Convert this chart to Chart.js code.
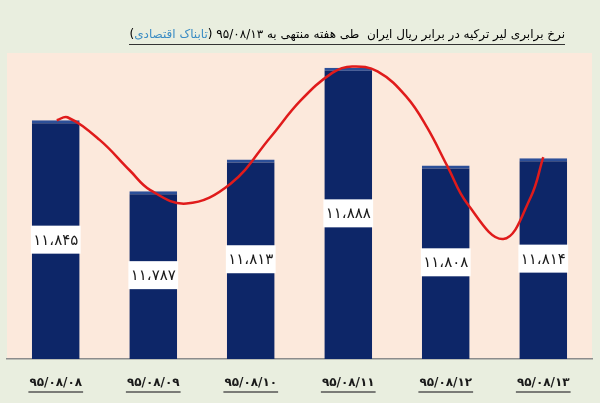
<!DOCTYPE html>
<html lang="fa">
<head>
<meta charset="utf-8">
<script src="https://cdn.jsdelivr.net/npm/chart.js@4"></script>
<style>
  html,body{margin:0;padding:0;background:#e9eedf;}
  #wrap{position:relative;width:600px;height:403px;}
  #title{position:absolute;top:26px;right:35px;direction:rtl;white-space:nowrap;
    font-family:"DejaVu Sans",sans-serif;font-size:12px;color:#000;
    border-bottom:1px solid #333;line-height:17px;padding-bottom:1px;}
  #title .src{color:#3a8cc4;}
  canvas{position:absolute;left:0;top:0;}
</style>
</head>
<body>
<div id="wrap">
  <canvas id="c" width="600" height="403"></canvas>
  <div id="title">نرخ برابری لیر ترکیه در برابر ریال ایران&nbsp; طی هفته منتهی به ۹۵/۰۸/۱۳ (<span class="src">تابناک اقتصادی</span>)</div>
</div>
<script>
const categories = ['۹۵/۰۸/۰۸','۹۵/۰۸/۰۹','۹۵/۰۸/۱۰','۹۵/۰۸/۱۱','۹۵/۰۸/۱۲','۹۵/۰۸/۱۳'];
const rates = [11845, 11787, 11813, 11888, 11808, 11814];
const rateLabels = ['۱۱،۸۴۵','۱۱،۷۸۷','۱۱،۸۱۳','۱۱،۸۸۸','۱۱،۸۰۸','۱۱،۸۱۴'];
// hand-drawn red trend curve: position along categories (index) and rate value
const trendX = [0.01, 0.12, 0.45, 0.76, 0.97, 1.34, 1.79, 2.20, 2.51, 2.84, 3.04, 3.30, 3.60, 3.81, 4.02, 4.22, 4.59, 4.87, 5.00];
const trendY = [11845, 11847.5, 11829, 11804, 11788, 11777, 11793, 11831, 11861, 11884, 11889, 11885, 11864, 11839, 11807, 11777, 11748, 11782, 11815];
const yMin = 11650, yMax = 11900;

const plotBg = {
  id:'plotBg',
  beforeDraw(chart){
    const {ctx, chartArea:a} = chart;
    ctx.save(); ctx.fillStyle='#fce9dc';
    ctx.fillRect(a.left, a.top, a.right-a.left, a.bottom-a.top);
    ctx.restore();
  }
};
const barLabels = {
  id:'barLabels',
  afterDatasetDraw(chart, args){
    if(args.index!==0) return;
    const ctx = chart.ctx, meta = chart.getDatasetMeta(0), yb = chart.chartArea.bottom;
    ctx.save();
    meta.data.forEach((bar,i)=>{
      const cy = (bar.y + yb)/2, w = bar.width + 2, h = 28;
      ctx.fillStyle = '#ffffff';
      ctx.fillRect(bar.x - w/2, cy - h/2, w, h);
      ctx.fillStyle = '#1a1a1a';
      ctx.font = '15px "DejaVu Sans", sans-serif';
      ctx.textAlign = 'center'; ctx.textBaseline = 'middle';
      ctx.fillText(rateLabels[i], bar.x, cy + 1);
    });
    ctx.restore();
  }
};
const tickUnderline = {
  id:'tickUnderline',
  afterDraw(chart){
    const ctx = chart.ctx, sx = chart.scales.x;
    ctx.save();
    ctx.font = 'bold 12px "DejaVu Sans", sans-serif';
    ctx.strokeStyle = '#555'; ctx.lineWidth = 1.5;
    categories.forEach((c,i)=>{
      const x = sx.getPixelForTick(i), w = ctx.measureText(c).width + 2;
      ctx.beginPath(); ctx.moveTo(x - w/2, 392); ctx.lineTo(x + w/2, 392); ctx.stroke();
    });
    ctx.restore();
  }
};

new Chart(document.getElementById('c'), {
  data:{
    labels: categories,
    datasets:[
      {type:'bar', data: rates, order:1, grouped:false,
       backgroundColor:'#0d2668', borderColor:'#2c4f98',
       borderWidth:{top:3,left:0,right:0,bottom:0}, borderSkipped:false,
       barPercentage:0.49, categoryPercentage:1.0},
      {type:'line', data: trendX.map((x,i)=>({x:x, y:trendY[i]})), xAxisID:'x2', order:0,
       borderColor:'#e01b1b', borderWidth:2.5, tension:0.4, pointRadius:0, fill:false}
    ]
  },
  options:{
    responsive:false, animation:false, devicePixelRatio:1,
    layout:{padding:{left:7, right:8, top:53, bottom:0}},
    plugins:{legend:{display:false}, tooltip:{enabled:false}},
    scales:{
      x:{type:'category', offset:true, grid:{display:false, drawTicks:false},
         border:{display:true, color:'#8c8c8c', width:1.5},
         ticks:{font:{family:'"DejaVu Sans", sans-serif', size:12, weight:'bold'}, color:'#1a1a1a', padding:17, maxRotation:0},
         afterFit(s){ s.height = 44; }},
      x2:{type:'linear', min:-0.5, max:5.5, display:false},
      y:{min:yMin, max:yMax, display:false}
    }
  },
  plugins:[plotBg, barLabels, tickUnderline]
});
</script>
</body>
</html>
